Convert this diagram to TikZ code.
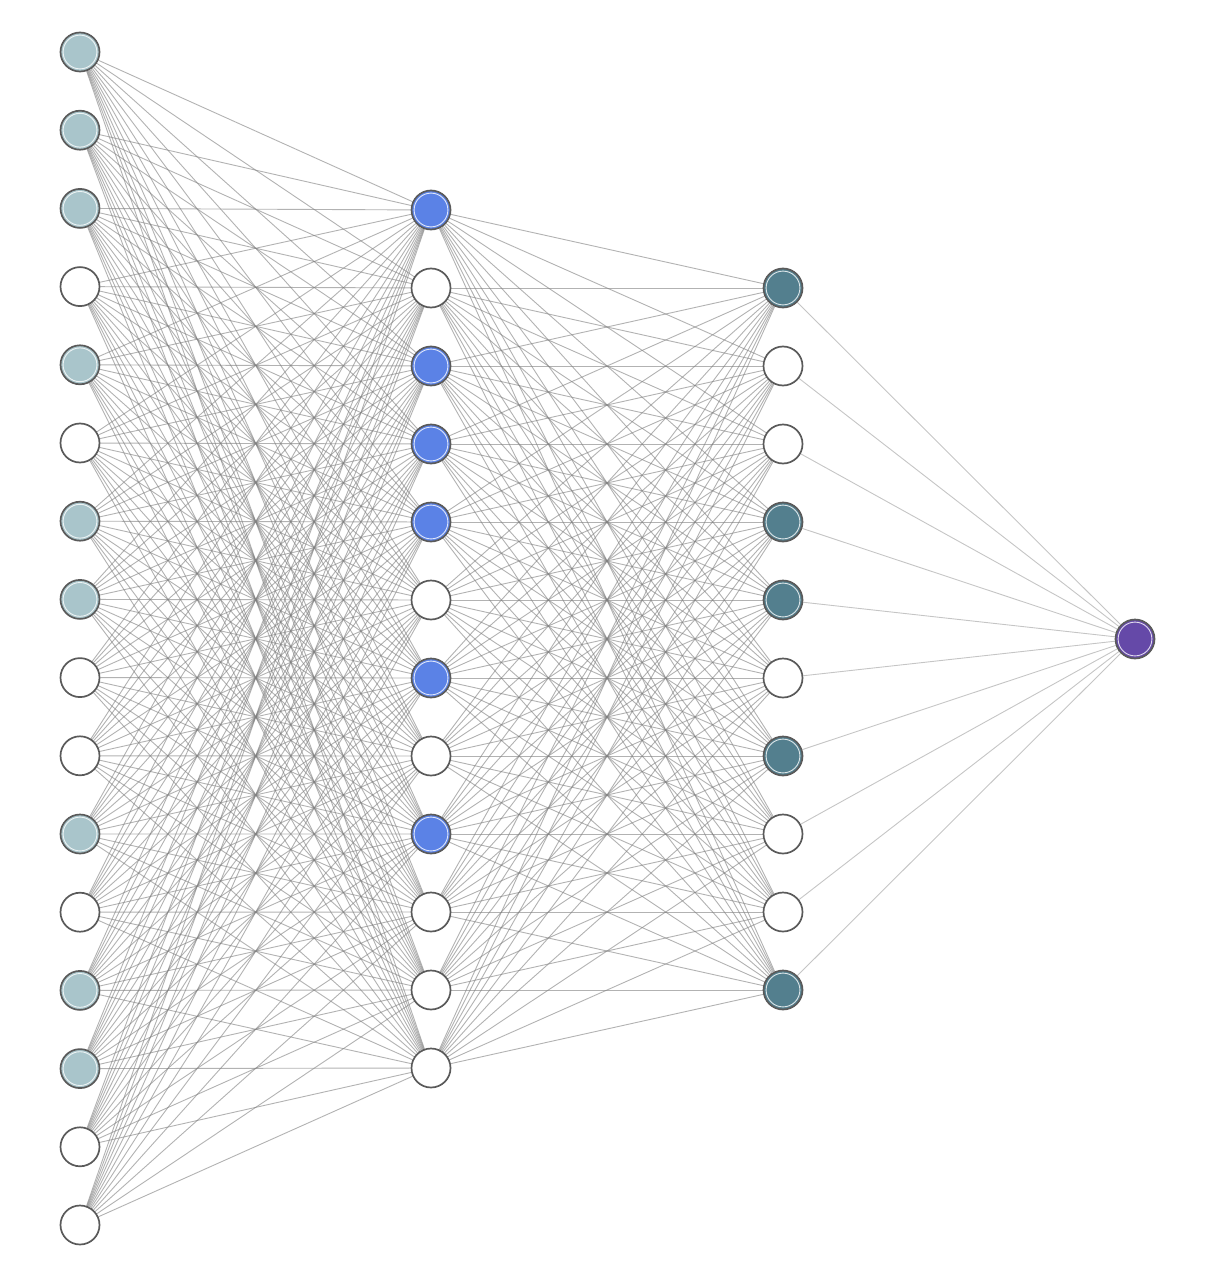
\documentclass[tikz,border=0pt]{standalone}
\usetikzlibrary{backgrounds}
\definecolor{lay1}{HTML}{A9C5CB}
\definecolor{lay2}{HTML}{5B82E6}
\definecolor{lay3}{HTML}{537F8E}
\definecolor{outc}{HTML}{6549A8}
\definecolor{ring}{HTML}{5A5A5A}
\definecolor{edgec}{HTML}{808080}
\begin{document}
\begin{tikzpicture}[x=1pt,y=-1pt,
  neuron/.style={circle,minimum size=39pt,inner sep=0pt,draw=ring,line width=1.7pt,
    path picture={\draw[white,line width=0.9pt,opacity=0.8] (path picture bounding box.center) circle (16.9pt);}},
  conn/.style={draw=edgec,line width=0.9pt,opacity=0.6}]
\useasboundingbox (0,0) rectangle (1230,1268);
% layer 1
\foreach \i/\c in {1/lay1,2/lay1,3/lay1,4/white,5/lay1,6/white,7/lay1,8/lay1,9/white,10/white,11/lay1,12/white,13/lay1,14/lay1,15/white,16/white}
  \node[neuron,fill=\c] (a\i) at (80,{52+78.2*(\i-1)}) {};
% layer 2
\foreach \j/\c in {1/lay2,2/white,3/lay2,4/lay2,5/lay2,6/white,7/lay2,8/white,9/lay2,10/white,11/white,12/white}
  \node[neuron,fill=\c] (b\j) at (431,{210+78*(\j-1)}) {};
% layer 3
\foreach \k/\c in {1/lay3,2/white,3/white,4/lay3,5/lay3,6/white,7/lay3,8/white,9/white,10/lay3}
  \node[neuron,fill=\c] (c\k) at (783,{288+78*(\k-1)}) {};
% output
\node[neuron,fill=outc] (o) at (1135,639) {};
\begin{scope}[on background layer]
\fill[white] (0,0) rectangle (1230,1268);
\foreach \i in {1,...,16}
  \foreach \j in {1,...,12}
    \draw[conn] (a\i) -- (b\j);
\foreach \j in {1,...,12}
  \foreach \k in {1,...,10}
    \draw[conn] (b\j) -- (c\k);
\foreach \k in {1,...,10}
  \draw[conn,opacity=0.45] (c\k) -- (o);
\end{scope}
\end{tikzpicture}
\end{document}
